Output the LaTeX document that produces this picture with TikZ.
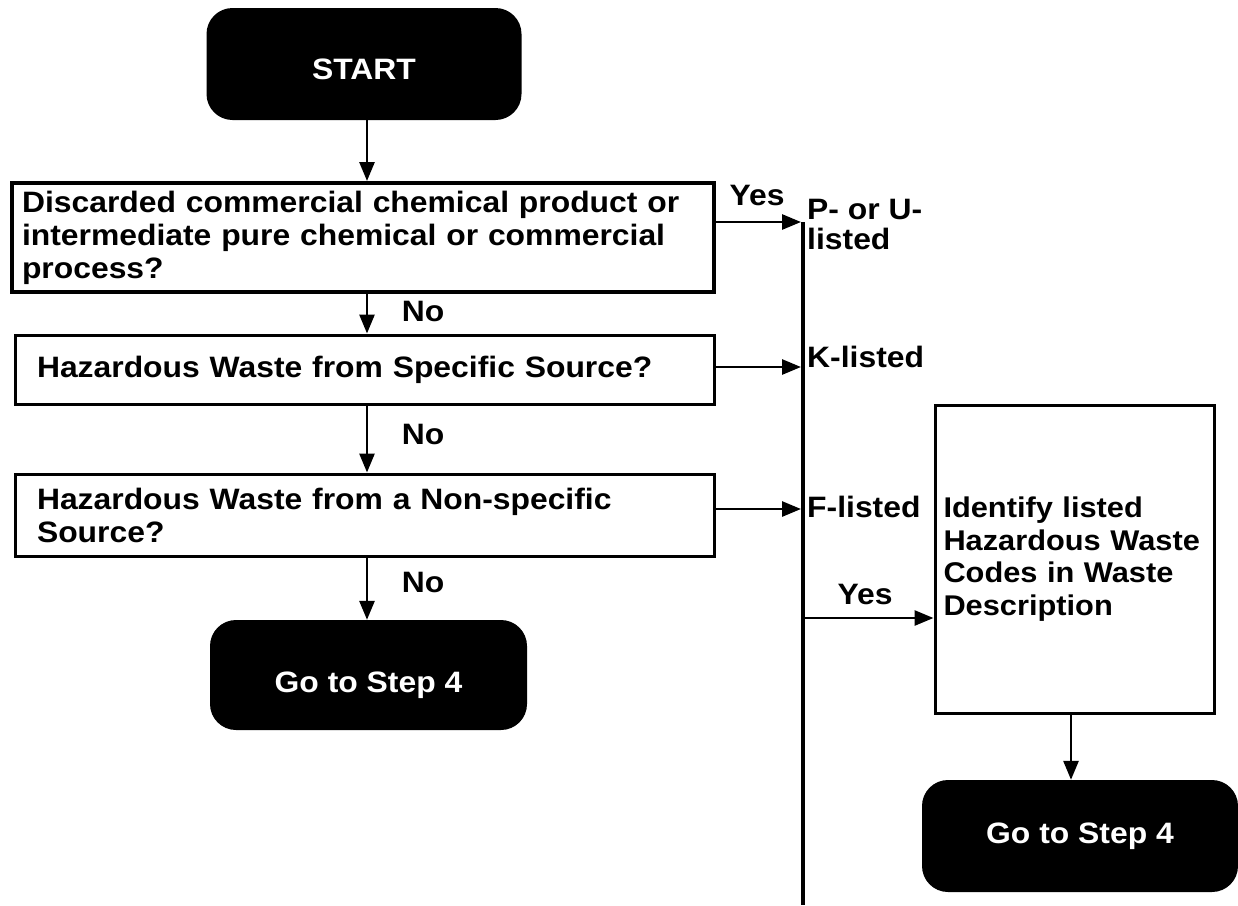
\documentclass[tikz,border=0pt]{standalone}
\usepackage{fontspec}
\setmainfont{Liberation Sans}[FakeStretch=1.08]
\usetikzlibrary{arrows.meta}
\newcommand{\lowertext}[2]{\raisebox{-#1}[\height][\depth]{#2}}
\begin{document}
\begin{tikzpicture}[x=1pt,y=-1pt,
  every node/.style={font=\bfseries\fontsize{29.5}{33}\selectfont},
  term/.style={fill=black,text=white,rounded corners=26pt,inner sep=0pt},
  qbox/.style={draw,line width=3pt,fill=white,align=left,inner sep=0pt},
  arr/.style={line width=2.8pt,-{Triangle[length=19pt,width=15pt]}},
  lbl/.style={inner sep=0pt}
]
\useasboundingbox (0,0) rectangle (1238,905);
% nodes
\node[term,minimum width=315pt,minimum height=112pt] (start) at (364,64) {\lowertext{5pt}{START}};
\node[qbox,line width=4pt,minimum width=702pt,minimum height=109pt,text width=682pt,inner xsep=10pt] (b1) at (363,237.5)
  {Discarded commercial chemical product or\\intermediate pure chemical or commercial\\process?};
\node[qbox,minimum width=699pt,minimum height=69pt,text width=655pt,inner xsep=22pt] (b2) at (364.5,369.5)
  {Hazardous Waste from Specific Source?};
\node[qbox,minimum width=699pt,minimum height=82pt,text width=655pt,inner xsep=22pt] (b3) at (364.5,515)
  {Hazardous Waste from a Non-specific\\Source?};
\node[term,minimum width=317pt,minimum height=110pt] (go1) at (368.5,675) {\lowertext{10pt}{Go to Step 4}};
\node[qbox,minimum width=279pt,minimum height=308pt,text width=262pt,font=\bfseries\fontsize{28.5}{32.5}\selectfont] (b4) at (1074.5,559)
  {Identify listed\\Hazardous Waste\\Codes in Waste\\Description};
\node[term,minimum width=316pt,minimum height=112pt] (go2) at (1080,836) {Go to Step 4};
% vertical collector line
\coordinate (top) at (803,222);
\coordinate (bot) at (803,905);
\coordinate (yrow) at (0,618);
\draw[line width=4pt] (top) -- (bot);
% main flow
\draw[arr] (start.south -| 367,0) -- (367,0 |- b1.north);
\draw[arr] (b1.south -| 367,0) -- (367,0 |- b2.north);
\draw[arr] (b2.south -| 367,0) -- (367,0 |- b3.north);
\draw[arr] (b3.south -| 367,0) -- (367,0 |- go1.north);
\node[lbl] (no1) at (423,311) {No};
\node[lbl] (no2) at (423,434) {No};
\node[lbl] (no3) at (423,582) {No};
% side arrows
\draw[arr,shorten >=2pt] (b1.east |- top) -- (top);
\node[lbl] (yes1) at (757,195) {Yes};
\node[lbl,anchor=north west,align=left,font=\bfseries\fontsize{29.5}{30}\selectfont] (pu) at (807,199) {P- or U-\\listed};
\draw[arr,shorten >=2pt] (b2.east |- 0,367) -- (top |- 0,367);
\node[lbl,anchor=west] (kl) at (807,357) {K-listed};
\draw[arr,shorten >=2pt] (b3.east |- 0,509) -- (top |- 0,509);
\node[lbl,anchor=west] (fl) at (807,507) {F-listed};
\draw[arr,shorten <=2pt] (top |- yrow) -- (b4.west |- yrow);
\node[lbl] (yes2) at (865,594) {Yes};
\draw[arr] (b4.south -| 1071,0) -- (1071,0 |- go2.north);
\end{tikzpicture}
\end{document}
